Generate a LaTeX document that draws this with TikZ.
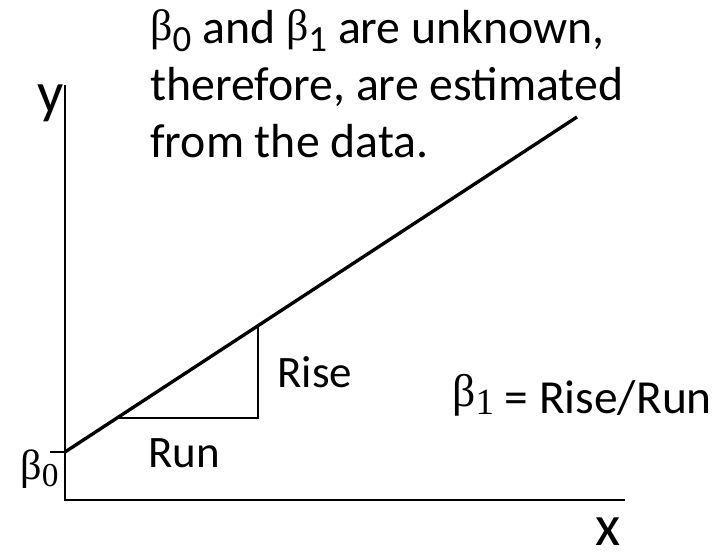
\documentclass[tikz,border=0pt]{standalone}
\usepackage{fontspec}
\setmainfont{Carlito}
\newfontfamily\grk{Liberation Serif}
\usetikzlibrary{calc}

\newcommand\sz[1]{\fontsize{#1}{#1}\selectfont}
% beta with raised glyph and lowered index
\newcommand\betasub[5]{{\grk\sz{#1}\raisebox{#2}{β}}\raisebox{-#4}{\sz{#3}#5}}

\tikzset{
  lbl/.style={inner sep=0pt, anchor=base west},
  axislbl/.style={lbl, font=\sz{33}},
  txt/.style={lbl, font=\sz{25.6}},
}

\begin{document}
\begin{tikzpicture}[x=1cm,y=1cm]
\useasboundingbox (-1.3,-1.1) rectangle (13.04,10);

% --- Retta
\def\bzero{0.96}
\def\xend{10.24}
\def\yend{7.66}

% --- Assi
\coordinate (O) at (0,0);
\coordinate (ytop) at (0,8.3);
\coordinate (xend) at (11.2,0);
\draw[line width=0.6pt] (ytop) -- (O) -- (xend);

% --- Intercetta e tacca
\coordinate (b0) at (0,\bzero);
\coordinate (tick) at (-0.3,\bzero);
\draw[line width=0.6pt] (tick) -- (b0);

% --- Retta di regressione
\coordinate (lend) at (\xend,\yend);
\draw[line width=1.9pt] (b0) -- (lend);

% --- Triangolo Rise/Run
\coordinate (runstart) at ($(b0)!0.1016!(lend)$);
\coordinate (risetop) at ($(b0)!0.377!(lend)$);
\coordinate (corner) at (risetop |- runstart);
\draw[line width=0.7pt] (runstart) -- (corner) -- (risetop);

% --- Etichette
\node[axislbl] (ylab) at (-0.56,7.76) {y};
\node[axislbl] (xlab) at (10.6,-0.9) {x};
\node[lbl] (b0lab) at (-0.9,0.42) {\betasub{24}{0pt}{19}{4.5pt}{\grk 0}};
\node[txt] (runlab) at (1.66,0.66) {Run};
\node[txt] (riselab) at (4.24,2.26) {Rise};
\node[lbl, font=\sz{27}] (slopelab) at (7.74,1.74)
  {\betasub{26}{3.5pt}{21}{1pt}{\grk 1} = Rise/Run};

% --- Testo in alto
\node[lbl, align=left, font=\fontsize{27.2}{32.4}\selectfont] (note) at (1.7,6.86)
  {\betasub{25}{1.5pt}{21}{4.5pt}{0} and \betasub{25}{1.5pt}{21}{4.5pt}{1} are unknown,\\
   therefore, are estimated\\
   from the data.};

\end{tikzpicture}
\end{document}
